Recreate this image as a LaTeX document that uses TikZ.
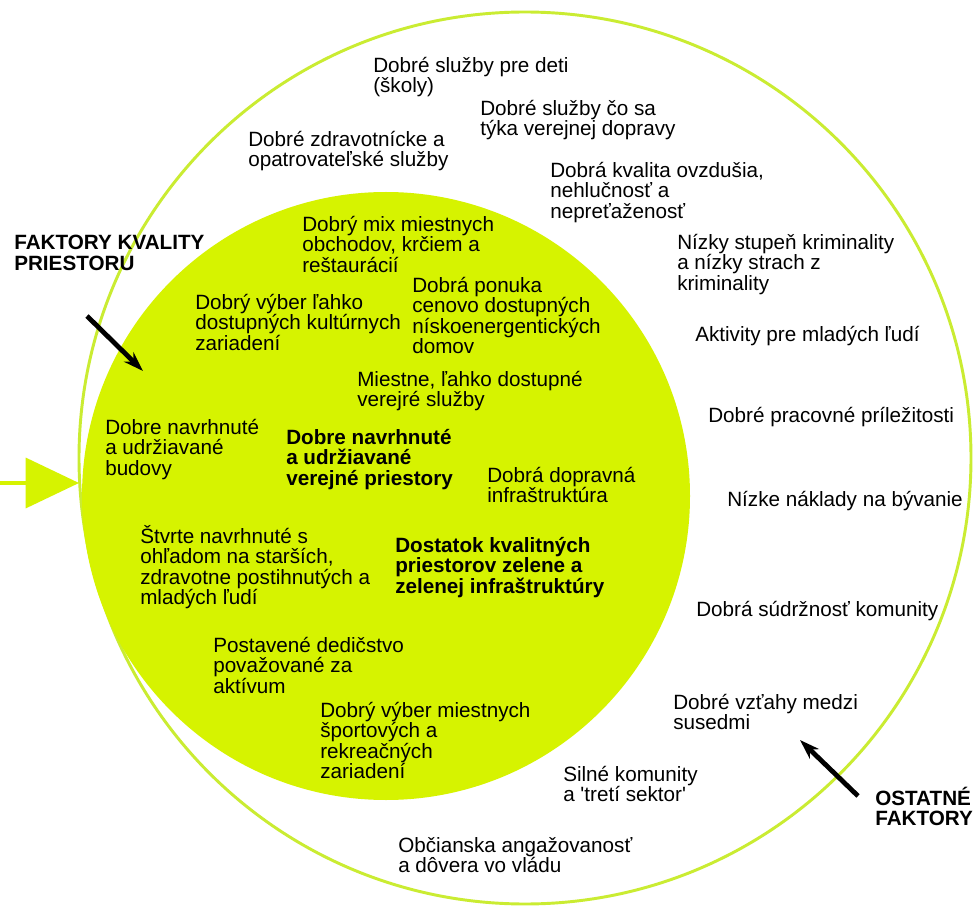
\documentclass[tikz,border=0pt]{standalone}
\usepackage{fontspec}
\setmainfont{Liberation Sans}
\usepackage{tikz}
\usetikzlibrary{arrows.meta}
\definecolor{limefill}{RGB}{214,243,0}
\definecolor{limeline}{RGB}{202,236,50}
\newcommand{\boxfont}{\fontsize{15.5}{15.3}\selectfont}
\tikzstyle{ringtext} = [anchor=north west, inner sep=0pt, align=left, font=\boxfont]
\tikzstyle{coretext} = [ringtext, font=\boxfont\bfseries]
\tikzstyle{tagtext} = [ringtext, font=\boxfont\bfseries]
\tikzstyle{pointer} = [draw, line width=3.6pt, -{Stealth[length=15pt, width=10pt]}]

\begin{document}
\begin{tikzpicture}[x=0.75pt, y=-0.75pt]
			\useasboundingbox (0,0) rectangle (975,909);
			\fill [white] (0,0) rectangle (975,909);

			% rings
			\draw [limeline, line width=2.2pt] (525,458) circle [radius=334.5pt];
			\fill [limefill] (386,496) circle [radius=228pt];

			% outer ring
			\node [ringtext] (kids) at (373,57) {Dobré služby pre deti\\(školy)};
			\node [ringtext] (transit) at (480,100) {Dobré služby čo sa\\týka verejnej dopravy};
			\node [ringtext] (care) at (248,131) {Dobré zdravotnícke a\\opatrovateľské služby};
			\node [ringtext] (air) at (550,162) {Dobrá kvalita ovzdušia,\\nehlučnosť a\\nepreťaženosť};
			\node [ringtext] (crime) at (677,234) {Nízky stupeň kriminality\\a nízky strach z\\kriminality};
			\node [ringtext] (youth) at (695,326) {Aktivity pre mladých ľudí};
			\node [ringtext] (jobs) at (708,407) {Dobré pracovné príležitosti};
			\node [ringtext] (housing) at (727,491) {Nízke náklady na bývanie};
			\node [ringtext] (cohesion) at (696,601) {Dobrá súdržnosť komunity};
			\node [ringtext] (neighbours) at (673,694) {Dobré vzťahy medzi\\susedmi};
			\node [ringtext] (sector) at (563,766) {Silné komunity\\a \textquotesingle tretí sektor\textquotesingle};
			\node [ringtext] (civic) at (398,837) {Občianska angažovanosť\\a dôvera vo vládu};

			% inner core
			\node [ringtext] (shops) at (302,216) {Dobrý mix miestnych\\obchodov, krčiem a\\reštaurácií};
			\node [ringtext] (culture) at (195,294) {Dobrý výber ľahko\\dostupných kultúrnych\\zariadení};
			\node [ringtext] (homes) at (412,277) {Dobrá ponuka\\cenovo dostupných\\nískoenergentických\\domov};
			\node [ringtext] (local) at (357,371) {Miestne, ľahko dostupné\\verejré služby};
			\node [ringtext] (buildings) at (105,419) {Dobre navrhnuté\\a udržiavané\\budovy};
			\node [coretext] (publicspace) at (286,429) {Dobre navrhnuté\\a udržiavané\\verejné priestory};
			\node [ringtext] (transport) at (487,467) {Dobrá dopravná\\infraštruktúra};
			\node [ringtext] (streets) at (140,525) {Štvrte navrhnuté s\\ohľadom na starších,\\zdravotne postihnutých a\\mladých ľudí};
			\node [coretext] (greenery) at (395,537) {Dostatok kvalitných\\priestorov zelene a\\zelenej infraštruktúry};
			\node [ringtext] (heritage) at (213,637) {Postavené dedičstvo\\považované za\\aktívum};
			\node [ringtext] (sports) at (320,702) {Dobrý výber miestnych\\športových a\\rekreačných\\zariadení};

			% side labels
			\node [tagtext] (quality) at (14,235) {FAKTORY KVALITY\\PRIESTORU};
			\node [tagtext] (other) at (875,787) {OSTATNÉ\\FAKTORY};

			\coordinate (qstart) at (87,316);
			\coordinate (qend) at (143,371);
			\coordinate (ostart) at (858,796);
			\coordinate (oend) at (800,740);
			\coordinate (entry) at (0,483);
			\coordinate (entrytip) at (79,483);

			\path [pointer] (qstart) -- (qend);
			\path [pointer] (ostart) -- (oend);
			\draw [limefill, line width=2.6pt, -{Triangle[length=40pt, width=37.5pt]}] (entry) -- (entrytip);
		\end{tikzpicture}
\end{document}
